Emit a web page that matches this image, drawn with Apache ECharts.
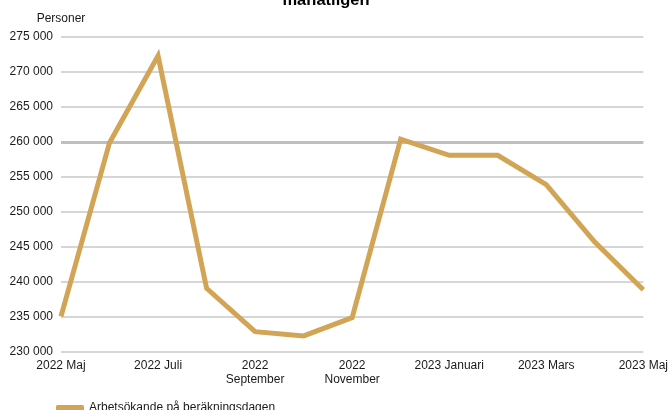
<!DOCTYPE html>
<html><head><meta charset="utf-8">
<script src="https://cdn.jsdelivr.net/npm/echarts@6/dist/echarts.min.js"></script>
<style>html,body{margin:0;padding:0;background:#fff}#c{width:671px;height:410px}</style>
</head><body><div id="c"></div>
<script>
const categories = ['2022 Maj','2022 Juni','2022 Juli','2022 Augusti','2022 September','2022 Oktober','2022 November','2022 December','2023 Januari','2023 Februari','2023 Mars','2023 April','2023 Maj'];
const seriesName = 'Arbetsökande på beräkningsdagen';
const values = [235100, 259900, 272300, 239100, 232900, 232300, 234900, 260400, 258100, 258100, 253900, 245700, 238900];
const titleText = 'månatligen';
const yAxisName = 'Personer';
const highlightLevel = [260000];

const chart = echarts.init(document.getElementById('c'), null, {renderer:'canvas'});
const font = 'Liberation Sans, Arial, sans-serif';
chart.setOption({
  animation:false,
  graphic:[{type:'text',x:326,y:0,z:10,
    style:{text:titleText,align:'center',verticalAlign:'middle',
      font:'bold 16.5px Liberation Sans, Arial, sans-serif',fill:'#000'}}],
  legend:{left:51,top:397,itemWidth:28,itemHeight:6,itemGap:10,icon:'roundRect',
    textStyle:{fontFamily:font,fontSize:12,color:'#1a1a1a'},data:[seriesName]},
  grid:{left:61,right:22,top:37,bottom:58,containLabel:false},
  xAxis:{type:'category',data:categories,boundaryGap:false,
    axisLine:{show:false},axisTick:{show:false},
    axisLabel:{interval:1,color:'#1a1a1a',fontFamily:font,fontSize:12,margin:7,lineHeight:14,
      formatter:v=>v.length>12?v.replace(' ','\n'):v}},
  yAxis:{type:'value',min:230000,max:275000,interval:5000,
    name:yAxisName,nameLocation:'end',nameGap:12,nameTextStyle:{fontFamily:font,fontSize:12,color:'#1a1a1a',align:'center'},
    axisLine:{show:false},axisTick:{show:false},
    axisLabel:{color:'#1a1a1a',fontFamily:font,fontSize:12,margin:8,
      formatter:v=>String(v).replace(/\B(?=(\d{3})+(?!\d))/g,' ')},
    splitLine:{lineStyle:{color:'#c8c8c8',width:1.5}}},
  series:[{name:seriesName,type:'line',data:values,symbol:'none',
    lineStyle:{color:'#d2a455',width:5,join:'miter'},itemStyle:{color:'#d2a455'},z:3,
    markLine:{silent:true,symbol:['none','none'],label:{show:false},
      lineStyle:{color:'#bfbfbf',width:3,type:'solid'},z:1,
      data:highlightLevel.map(v=>({yAxis:v}))}}]
});
</script></body></html>
